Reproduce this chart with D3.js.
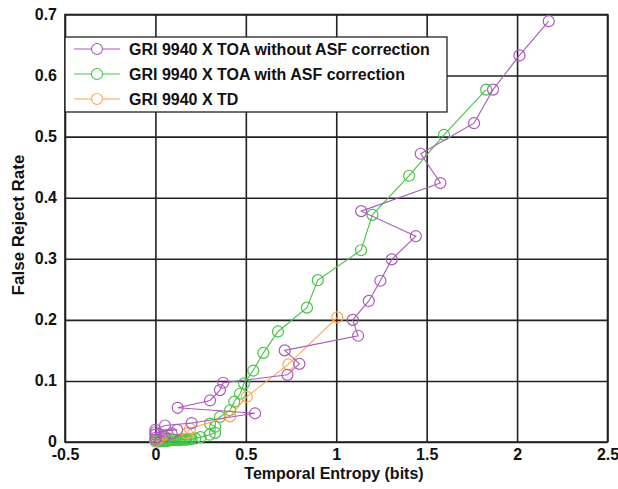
<!DOCTYPE html>
<html lang="en">
<head>
<meta charset="UTF-8">
<title>False Reject Rate vs Temporal Entropy</title>
<script src="https://d3js.org/d3.v7.min.js"></script>
<style>
  body { margin: 0; background: #fff; }
  svg { display: block; font-family: "Liberation Sans", Arial, sans-serif; }
  .tick text { font-size: 16px; font-weight: bold; fill: #111; }
  .axis-title { font-size: 16px; font-weight: bold; fill: #111; }
  .legend text { font-size: 16px; font-weight: bold; fill: #111; }
</style>
</head>
<body>
<svg id="chart" width="618" height="489"></svg>
<script>
// tick values
const xTicks = [-0.5, 0, 0.5, 1, 1.5, 2, 2.5];
const yTicks = [0, 0.1, 0.2, 0.3, 0.4, 0.5, 0.6, 0.7];

// series names
const seriesNames = [
  "GRI 9940 X TOA without ASF correction",
  "GRI 9940 X TOA with ASF correction",
  "GRI 9940 X TD"
];

// without ASF correction: [entropy, false reject rate]
const toaNoAsf = [
  [2.175, 0.689], [2.013, 0.633], [1.867, 0.577], [1.762, 0.522], [1.467, 0.472],
  [1.576, 0.424], [1.138, 0.378], [1.440, 0.337], [1.307, 0.299], [1.244, 0.264],
  [1.180, 0.231], [1.091, 0.200], [1.121, 0.174], [0.715, 0.150], [0.796, 0.128],
  [0.730, 0.110], [0.375, 0.097], [0.357, 0.085], [0.302, 0.068], [0.123, 0.056],
  [0.551, 0.047], [0.200, 0.031], [0.053, 0.027], [0.000, 0.020], [0.120, 0.020],
  [0.000, 0.016], [0.090, 0.014], [0.000, 0.012], [0.050, 0.009], [0.000, 0.007],
  [0.000, 0.004]
];

// with ASF correction
const toaAsf = [
  [1.829, 0.577], [1.596, 0.503], [1.403, 0.436], [1.200, 0.372], [1.137, 0.314],
  [0.898, 0.265], [0.838, 0.220], [0.678, 0.181], [0.597, 0.146], [0.541, 0.117],
  [0.490, 0.096], [0.468, 0.079], [0.436, 0.066], [0.413, 0.052], [0.357, 0.041],
  [0.302, 0.030], [0.330, 0.025], [0.330, 0.015], [0.300, 0.012], [0.250, 0.008],
  [0.220, 0.006], [0.200, 0.005], [0.190, 0.005], [0.180, 0.004], [0.170, 0.004],
  [0.160, 0.004], [0.150, 0.004], [0.140, 0.004], [0.130, 0.003], [0.120, 0.003],
  [0.110, 0.003], [0.100, 0.003], [0.090, 0.003], [0.080, 0.003], [0.070, 0.002],
  [0.060, 0.002], [0.050, 0.002], [0.040, 0.002], [0.030, 0.002], [0.020, 0.001],
  [0.010, 0.001], [0.000, 0.001]
];

// TD
const td = [
  [1.006, 0.204], [0.735, 0.127], [0.505, 0.074], [0.413, 0.042], [0.191, 0.022],
  [0.175, 0.014], [0.030, 0.008], [0.010, 0.004], [0.000, 0.002]
];

const colors = ["#a95bb8", "#45c445", "#ffa54a"];
const allSeries = [toaNoAsf, toaAsf, td];

const svg = d3.select("#chart");
const plotLeft = 65, plotRight = 607.5, plotTop = 14.5, plotBottom = 442;

const x = d3.scaleLinear().domain([-0.5, 2.5]).range([plotLeft, plotRight]);
const y = d3.scaleLinear().domain([0, 0.7]).range([plotBottom, plotTop]);

// grid + axes
svg.append("g")
  .attr("transform", `translate(0,${plotBottom})`)
  .call(d3.axisBottom(x).tickValues(xTicks).tickFormat(d => String(d))
    .tickSizeInner(-(plotBottom - plotTop)).tickSizeOuter(0).tickPadding(7))
  .call(g => g.select(".domain").remove())
  .call(g => g.selectAll("line").attr("stroke", "#222").attr("stroke-width", 1.6));

svg.append("g")
  .attr("transform", `translate(${plotLeft},0)`)
  .call(d3.axisLeft(y).tickValues(yTicks).tickFormat(d => String(d))
    .tickSizeInner(-(plotRight - plotLeft)).tickSizeOuter(0).tickPadding(8))
  .call(g => g.select(".domain").remove())
  .call(g => g.selectAll("line").attr("stroke", "#222").attr("stroke-width", 1.6))
  .call(g => g.selectAll("text").attr("dy", "0.3em"));

svg.append("rect")
  .attr("x", plotLeft).attr("y", plotTop)
  .attr("width", plotRight - plotLeft).attr("height", plotBottom - plotTop)
  .attr("fill", "none").attr("stroke", "#222").attr("stroke-width", 1.6);

// axis titles
svg.append("text").attr("class", "axis-title")
  .attr("x", 334).attr("y", 479)
  .attr("text-anchor", "middle")
  .text("Temporal Entropy (bits)");

svg.append("text").attr("class", "axis-title")
  .style("font-size", "17px")
  .attr("transform", `translate(24,225) rotate(-90)`)
  .attr("text-anchor", "middle")
  .text("False Reject Rate");

// series drawn green, orange, then purple on top
const line = d3.line().x(d => x(d[0])).y(d => y(d[1]));
const order = [1, 2, 0];
order.forEach(i => {
  const g = svg.append("g");
  g.append("path")
    .datum(allSeries[i])
    .attr("d", line)
    .attr("fill", "none")
    .attr("stroke", colors[i])
    .attr("stroke-width", 1.1);
  g.selectAll("circle")
    .data(allSeries[i])
    .join("circle")
    .attr("cx", d => x(d[0]))
    .attr("cy", d => y(d[1]))
    .attr("r", 5.5)
    .attr("fill", "none")
    .attr("stroke", colors[i])
    .attr("stroke-width", 1.2);
});

// legend
const legend = svg.append("g").attr("class", "legend");
legend.append("rect")
  .attr("x", plotLeft).attr("y", 37)
  .attr("width", 382).attr("height", 75)
  .attr("fill", "#fff").attr("stroke", "#222").attr("stroke-width", 1.3);

seriesNames.forEach((name, i) => {
  const ly = 49 + i * 25;
  legend.append("line")
    .attr("x1", 74).attr("x2", 120).attr("y1", ly).attr("y2", ly)
    .attr("stroke", colors[i]).attr("stroke-width", 1.1);
  legend.append("circle")
    .attr("cx", 97).attr("cy", ly).attr("r", 5.5)
    .attr("fill", "#fff").attr("stroke", colors[i]).attr("stroke-width", 1.1);
  legend.append("text")
    .attr("x", 129).attr("y", ly).attr("dy", "0.35em")
    .text(name);
});
</script>
</body>
</html>
